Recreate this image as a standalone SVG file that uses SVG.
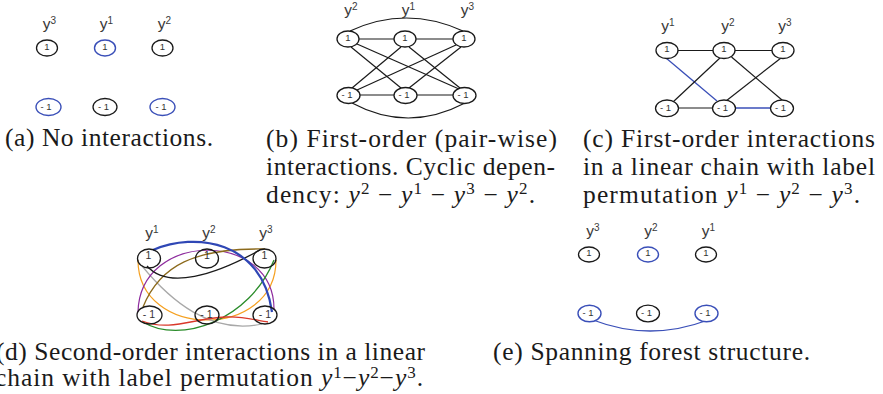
<svg xmlns="http://www.w3.org/2000/svg" width="883" height="394" viewBox="0 0 883 394">
<style>
.n{fill:#fff;stroke:#1a1a1a;stroke-width:1.3}
.nb{fill:#fff;stroke:#3a4fb8;stroke-width:1.4}
.t{font-family:"Liberation Sans",Arial,sans-serif;font-size:9.5px;fill:#333;text-anchor:middle}
.td{font-family:"Liberation Sans",Arial,sans-serif;font-size:10.5px;fill:#333;text-anchor:middle}
.lab{font-family:"Liberation Sans",Arial,sans-serif;font-size:15.5px;fill:#3a3a3a;text-anchor:middle}
.ls{font-size:10px}
.e{fill:none;stroke:#1a1a1a;stroke-width:1.2}
.eb{fill:none;stroke:#3a4fb8;stroke-width:1.3}
.cap{font-family:"Liberation Serif","Times New Roman",serif;font-size:25.5px;fill:#1a1a1a}
.m{font-style:italic}
.sup{font-size:17px;font-style:normal}
</style>

<!-- connectors -->
<g id="connectors">
  <g id="conn-b">
    <path class="e" d="M350,31 Q406,5 463,31"/>
    <path class="e" d="M352,103 Q408,133 465,103"/>
    <line class="e" x1="358" y1="39" x2="395" y2="39"/>
    <line class="e" x1="415" y1="39" x2="454" y2="39"/>
    <line class="e" x1="359" y1="95" x2="394" y2="95"/>
    <line class="e" x1="416" y1="95" x2="453" y2="95"/>
    <line class="e" x1="351" y1="47" x2="401" y2="88"/>
    <line class="e" x1="357" y1="44" x2="459" y2="89"/>
    <line class="e" x1="401" y1="47" x2="352" y2="88"/>
    <line class="e" x1="409" y1="47" x2="460" y2="88"/>
    <line class="e" x1="456" y1="45" x2="357" y2="90"/>
    <line class="e" x1="461" y1="47" x2="409" y2="88"/>
  </g>
  <g id="conn-c">
    <line class="e" x1="677" y1="50.5" x2="714" y2="50.5"/>
    <line class="e" x1="734" y1="50.5" x2="773" y2="50.5"/>
    <line class="e" x1="678" y1="108" x2="713" y2="108"/>
    <line class="eb" x1="735" y1="108" x2="771" y2="108"/>
    <line class="eb" x1="666" y1="58" x2="717" y2="101"/>
    <line class="e" x1="720.5" y1="57.5" x2="673" y2="102"/>
    <line class="e" x1="731.5" y1="57" x2="782" y2="100"/>
    <line class="e" x1="781" y1="58" x2="726" y2="101"/>
  </g>
  <g id="conn-d">
    <path fill="none" stroke="#f5a020" stroke-width="1.2" d="M138,260 C138,340 276,340 276,260"/>
    <path fill="none" stroke="#a8a8a8" stroke-width="1.2" d="M142,266 C170,300 210,335 262,324"/>
    <path fill="none" stroke="#8e2c9e" stroke-width="1.2" d="M138,312 C140,230 275,230 274,310"/>
    <path fill="none" stroke="#8c6a1c" stroke-width="1.3" d="M143,307 C160,265 195,248 265,249"/>
    <path fill="none" stroke="#2a8c2a" stroke-width="1.3" d="M143,322 C180,345 250,320 274,260"/>
    <path fill="none" stroke="#d9382a" stroke-width="1.3" d="M142,321 C170,332 195,318 225,317 C245,316 258,321 268,322"/>
    <path fill="none" stroke="#1a1a1a" stroke-width="1.3" d="M147,266 C168,290 215,275 260,250"/>
    <path fill="none" stroke="#2f47b5" stroke-width="2.3" d="M153,250 C195,232 262,240 272,312"/>
  </g>
  <g id="conn-e">
    <path class="eb" d="M593,320 Q650,342 708,320"/>
  </g>
</g>

<!-- panel (a) -->
<g id="a-labels">
  <text class="lab" x="49.5" y="29">y<tspan class="ls" dy="-5.5">3</tspan></text>
  <text class="lab" x="106.5" y="29">y<tspan class="ls" dy="-5.5">1</tspan></text>
  <text class="lab" x="164.5" y="29">y<tspan class="ls" dy="-5.5">2</tspan></text>
</g>
<g id="a-y3-pos"><ellipse class="n" cx="47" cy="48" rx="10.5" ry="8"/><text class="t" x="47" y="49.5">1</text></g>
<g id="a-y1-pos"><ellipse class="nb" cx="105" cy="48" rx="10.5" ry="8"/><text class="t" x="105" y="49.5">1</text></g>
<g id="a-y2-pos"><ellipse class="n" cx="162.5" cy="48" rx="10.5" ry="8"/><text class="t" x="162.5" y="49.5">1</text></g>
<g id="a-y3-neg"><ellipse class="nb" cx="48.5" cy="107" rx="12.5" ry="8.5"/><text class="t" x="46" y="109.5">- 1</text></g>
<g id="a-y1-neg"><ellipse class="n" cx="105" cy="107" rx="12" ry="8.5"/><text class="t" x="103.5" y="109.5">- 1</text></g>
<g id="a-y2-neg"><ellipse class="nb" cx="162.5" cy="107" rx="12.5" ry="8.5"/><text class="t" x="161" y="109.5">- 1</text></g>

<!-- panel (b) -->
<g id="b-labels">
  <text class="lab" x="351" y="15">y<tspan class="ls" dy="-5.5">2</tspan></text>
  <text class="lab" x="408.5" y="15">y<tspan class="ls" dy="-5.5">1</tspan></text>
  <text class="lab" x="467.5" y="15">y<tspan class="ls" dy="-5.5">3</tspan></text>
</g>
<g id="b-y2-pos"><ellipse class="n" cx="348" cy="39" rx="11" ry="8"/><text class="t" x="348" y="40.5">1</text></g>
<g id="b-y1-pos"><ellipse class="n" cx="405" cy="39" rx="11" ry="8"/><text class="t" x="405" y="40.5">1</text></g>
<g id="b-y3-pos"><ellipse class="n" cx="464" cy="39" rx="11" ry="8"/><text class="t" x="464" y="40.5">1</text></g>
<g id="b-y2-neg"><ellipse class="n" cx="348.5" cy="95.5" rx="11.5" ry="8"/><text class="t" x="347" y="98">- 1</text></g>
<g id="b-y1-neg"><ellipse class="n" cx="405.5" cy="95.5" rx="11.5" ry="8"/><text class="t" x="404" y="98">- 1</text></g>
<g id="b-y3-neg"><ellipse class="n" cx="464.5" cy="95.5" rx="11.5" ry="8"/><text class="t" x="463" y="98">- 1</text></g>

<!-- panel (c) -->
<g id="c-labels">
  <text class="lab" x="668" y="31">y<tspan class="ls" dy="-5.5">1</tspan></text>
  <text class="lab" x="728" y="31">y<tspan class="ls" dy="-5.5">2</tspan></text>
  <text class="lab" x="785" y="31">y<tspan class="ls" dy="-5.5">3</tspan></text>
</g>
<g id="c-y1-pos"><ellipse class="n" cx="667" cy="50.5" rx="11" ry="8"/><text class="t" x="667" y="52">1</text></g>
<g id="c-y2-pos"><ellipse class="n" cx="724" cy="50.5" rx="11" ry="8"/><text class="t" x="724" y="52">1</text></g>
<g id="c-y3-pos"><ellipse class="n" cx="783" cy="50.5" rx="11" ry="8"/><text class="t" x="783" y="52">1</text></g>
<g id="c-y1-neg"><ellipse class="n" cx="667" cy="108.3" rx="11.5" ry="8.3"/><text class="t" x="665.5" y="110.8">- 1</text></g>
<g id="c-y2-neg"><ellipse class="n" cx="724" cy="108.3" rx="11.5" ry="8.3"/><text class="t" x="722.5" y="110.8">- 1</text></g>
<g id="c-y3-neg"><ellipse class="n" cx="782" cy="108.3" rx="11.5" ry="8.3"/><text class="t" x="780.5" y="110.8">- 1</text></g>

<!-- panel (d) -->
<g id="d-labels">
  <text class="lab" x="152" y="238">y<tspan class="ls" dy="-5.5">1</tspan></text>
  <text class="lab" x="209" y="238">y<tspan class="ls" dy="-5.5">2</tspan></text>
  <text class="lab" x="266" y="238">y<tspan class="ls" dy="-5.5">3</tspan></text>
</g>
<g id="d-y1-pos"><ellipse class="n" cx="149" cy="258.5" rx="11.5" ry="9.5" fill-opacity="0"/><text class="td" x="148.5" y="258.5">1</text></g>
<g id="d-y2-pos"><ellipse class="n" cx="207" cy="258.5" rx="11.5" ry="9.5" fill-opacity="0"/><text class="td" x="207" y="258.5">1</text></g>
<g id="d-y3-pos"><ellipse class="n" cx="264.5" cy="258.5" rx="11.5" ry="9.5" fill-opacity="0"/><text class="td" x="264.5" y="258.5">1</text></g>
<g id="d-y1-neg"><ellipse class="n" cx="149.5" cy="315" rx="12.5" ry="9" fill-opacity="0"/><text class="td" x="149" y="317.5">- 1</text></g>
<g id="d-y2-neg"><ellipse class="n" cx="207" cy="315" rx="12" ry="9" fill-opacity="0"/><text class="td" x="206.5" y="317.5">- 1</text></g>
<g id="d-y3-neg"><ellipse class="n" cx="265" cy="315" rx="12" ry="9" fill-opacity="0"/><text class="td" x="265" y="317.5">- 1</text></g>

<!-- panel (e) -->
<g id="e-labels">
  <text class="lab" x="593" y="236">y<tspan class="ls" dy="-5.5">3</tspan></text>
  <text class="lab" x="651" y="236">y<tspan class="ls" dy="-5.5">2</tspan></text>
  <text class="lab" x="708.5" y="236">y<tspan class="ls" dy="-5.5">1</tspan></text>
</g>
<g id="e-y3-pos"><ellipse class="n" cx="589" cy="254.5" rx="10.5" ry="7.5"/><text class="t" x="589" y="256">1</text></g>
<g id="e-y2-pos"><ellipse class="nb" cx="648" cy="254.5" rx="10.5" ry="7.5"/><text class="t" x="648" y="256">1</text></g>
<g id="e-y1-pos"><ellipse class="n" cx="706" cy="254.5" rx="10.5" ry="7.5"/><text class="t" x="706" y="256">1</text></g>
<g id="e-y3-neg"><ellipse class="nb" cx="589.5" cy="313.5" rx="11.5" ry="8.3"/><text class="t" x="588" y="315.5">- 1</text></g>
<g id="e-y2-neg"><ellipse class="n" cx="648" cy="313.5" rx="11.5" ry="8.3"/><text class="t" x="646.5" y="315.5">- 1</text></g>
<g id="e-y1-neg"><ellipse class="nb" cx="706.5" cy="313.5" rx="11.5" ry="8.3"/><text class="t" x="705" y="315.5">- 1</text></g>

<!-- captions -->
<g id="captions">
  <text class="cap" x="5" y="146" textLength="208">(a) No interactions.</text>
  <text class="cap" x="266" y="147" textLength="291">(b) First-order (pair-wise)</text>
  <text class="cap" x="266" y="175" textLength="289">interactions. Cyclic depen-</text>
  <text class="cap" x="266" y="203" textLength="269">dency: <tspan class="m">y</tspan><tspan class="sup" dy="-9">2</tspan><tspan dy="9"> − </tspan><tspan class="m">y</tspan><tspan class="sup" dy="-9">1</tspan><tspan dy="9"> − </tspan><tspan class="m">y</tspan><tspan class="sup" dy="-9">3</tspan><tspan dy="9"> − </tspan><tspan class="m">y</tspan><tspan class="sup" dy="-9">2</tspan><tspan dy="9">.</tspan></text>
  <text class="cap" x="583" y="147" textLength="292">(c) First-order interactions</text>
  <text class="cap" x="583" y="175" textLength="292">in a linear chain with label</text>
  <text class="cap" x="583" y="203" textLength="277">permutation <tspan class="m">y</tspan><tspan class="sup" dy="-9">1</tspan><tspan dy="9"> − </tspan><tspan class="m">y</tspan><tspan class="sup" dy="-9">2</tspan><tspan dy="9"> − </tspan><tspan class="m">y</tspan><tspan class="sup" dy="-9">3</tspan><tspan dy="9">.</tspan></text>
  <text class="cap" x="-4" y="360" textLength="429">(d) Second-order interactions in a linear</text>
  <text class="cap" x="-5" y="386" textLength="428">chain with label permutation <tspan class="m">y</tspan><tspan class="sup" dy="-8">1</tspan><tspan dy="8">−</tspan><tspan class="m">y</tspan><tspan class="sup" dy="-8">2</tspan><tspan dy="8">−</tspan><tspan class="m">y</tspan><tspan class="sup" dy="-8">3</tspan><tspan dy="8">.</tspan></text>
  <text class="cap" x="493" y="360" textLength="317">(e) Spanning forest structure.</text>
</g>
</svg>
